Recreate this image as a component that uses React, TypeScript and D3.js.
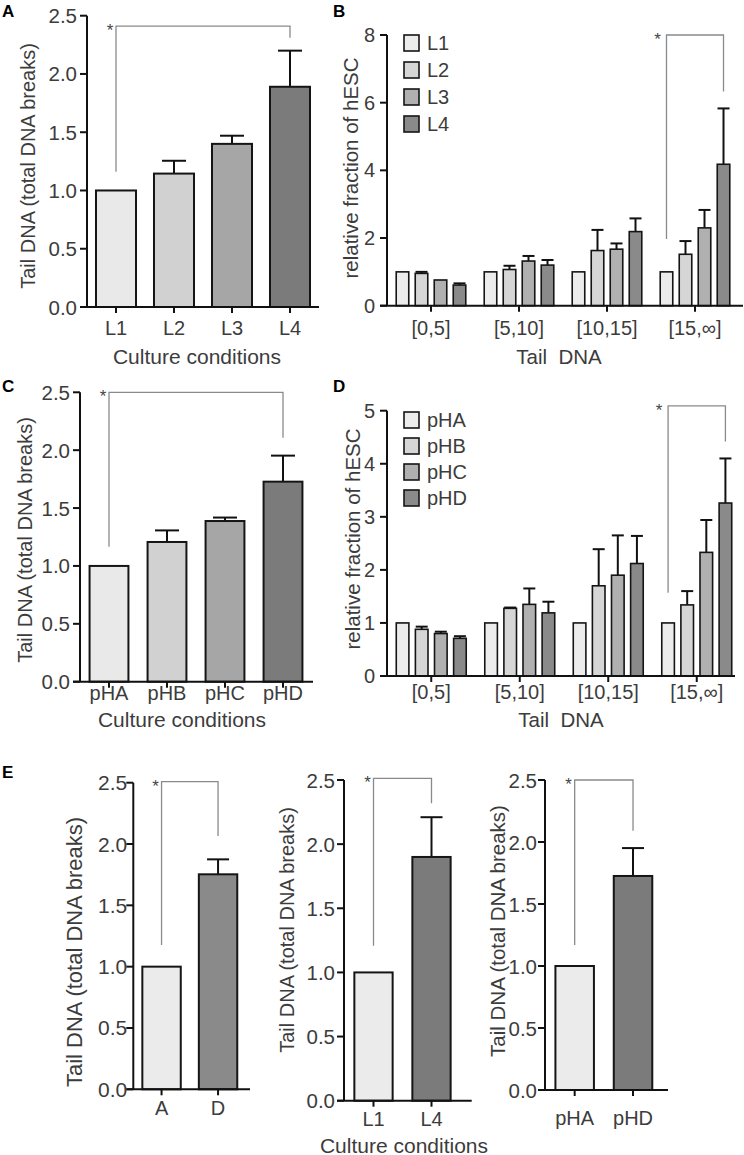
import React from "react";
import * as d3 from "d3";

const FONT = "'Liberation Sans', Arial, Helvetica, sans-serif";
const TXT = "#3c3c3c";

// ---------- Data ----------
const condA = ["L1", "L2", "L3", "L4"];
const valA = [1.0, 1.145, 1.4, 1.89];
const errA = [0, 0.11, 0.07, 0.31];

const condC = ["pHA", "pHB", "pHC", "pHD"];
const valC = [1.0, 1.207, 1.388, 1.728];
const errC = [0, 0.1, 0.03, 0.225];

const bins = ["[0,5]", "[5,10]", "[10,15]", "[15,\u221e]"];

const seriesB = ["L1", "L2", "L3", "L4"];
const bL1 = [1, 1, 1, 1];
const bL2 = [0.955, 1.07, 1.63, 1.52];
const bL3 = [0.76, 1.32, 1.67, 2.3];
const bL4 = [0.61, 1.2, 2.19, 4.18];
const bL1err = [0, 0, 0, 0];
const bL2err = [0.045, 0.11, 0.61, 0.39];
const bL3err = [0, 0.15, 0.17, 0.53];
const bL4err = [0.05, 0.15, 0.39, 1.65];

const seriesD = ["pHA", "pHB", "pHC", "pHD"];
const dA = [1, 1, 1, 1];
const dB = [0.88, 1.275, 1.7, 1.34];
const dC = [0.8, 1.35, 1.9, 2.33];
const dD = [0.71, 1.19, 2.12, 3.26];
const dAerr = [0, 0, 0, 0];
const dBerr = [0.05, 0.015, 0.69, 0.26];
const dCerr = [0.035, 0.3, 0.75, 0.61];
const dDerr = [0.04, 0.21, 0.52, 0.84];

const condE1 = ["A", "D"];
const valE1 = [1.0, 1.753];
const errE1 = [0, 0.122];

const condE2 = ["L1", "L4"];
const valE2 = [1.0, 1.9];
const errE2 = [0, 0.31];

const condE3 = ["pHA", "pHD"];
const valE3 = [1.0, 1.726];
const errE3 = [0, 0.225];

const ticksTail = [0, 0.5, 1.0, 1.5, 2.0, 2.5];
const ticksB = [0, 2, 4, 6, 8];
const ticksD = [0, 1, 2, 3, 4, 5];

const grays4 = ["#e9e9e9", "#d1d1d1", "#a6a6a6", "#7b7b7b"];
const graysLegend = ["#ececec", "#d6d6d6", "#b0b0b0", "#8a8a8a"];

const Y_LABEL = "Tail DNA (total DNA breaks)";

// ---------- Simple panel ----------
function SimplePanel(p: any) {
  const band = d3
    .scaleBand<string>()
    .domain(p.cats)
    .range(p.bandRange)
    .paddingInner(p.pi)
    .paddingOuter(p.po);
  const y = d3.scaleLinear().domain([0, p.yMax]).range([p.y0, p.yTop]);
  const bw = band.bandwidth();
  const cx = (c: string) => (band(c) as number) + bw / 2;
  const br = p.bracket;
  const xl = cx(p.cats[br.from]);
  const xr = cx(p.cats[br.to]);
  return (
    <g>
      {p.cats.map((c: string, i: number) => (
        <g key={c}>
          {p.errs[i] > 0 && (
            <g stroke="#111" strokeWidth={2}>
              <line x1={cx(c)} x2={cx(c)} y1={y(p.vals[i])} y2={y(p.vals[i] + p.errs[i])} />
              <line
                x1={cx(c) - p.capW / 2}
                x2={cx(c) + p.capW / 2}
                y1={y(p.vals[i] + p.errs[i])}
                y2={y(p.vals[i] + p.errs[i])}
              />
            </g>
          )}
          <rect
            x={band(c)}
            y={y(p.vals[i])}
            width={bw}
            height={p.y0 - y(p.vals[i])}
            fill={p.colors[i]}
            stroke="#151515"
            strokeWidth={2}
          />
        </g>
      ))}
      {/* axes */}
      <line x1={p.axisX} x2={p.axisX} y1={y(p.yMax)} y2={p.y0} stroke="#111" strokeWidth={2} />
      <line x1={p.axisX - 7} x2={p.axisEnd} y1={p.y0} y2={p.y0} stroke="#111" strokeWidth={2} />
      {p.ticks.map((t: number) => (
        <g key={t}>
          <line x1={p.axisX - 7} x2={p.axisX} y1={y(t)} y2={y(t)} stroke="#111" strokeWidth={2} />
          <text
            x={p.axisX - p.tickGap}
            y={y(t)}
            textAnchor="end"
            dominantBaseline="central"
            fontSize={p.tickFont}
            fill={TXT}
            fontFamily={FONT}
          >
            {d3.format(p.tickFmt)(t)}
          </text>
        </g>
      ))}
      {p.cats.map((c: string) => (
        <g key={"xt" + c}>
          <line x1={cx(c)} x2={cx(c)} y1={p.y0} y2={p.y0 + 6} stroke="#111" strokeWidth={2} />
          <text
            x={cx(c)}
            y={p.xLabelY}
            textAnchor="middle"
            dominantBaseline="central"
            fontSize={p.xFont}
            fill={TXT}
            fontFamily={FONT}
          >
            {c}
          </text>
        </g>
      ))}
      {/* bracket */}
      <path
        d={`M${xl},${y(br.fromV)}V${y(br.topV)}H${xr}V${y(br.toV)}`}
        fill="none"
        stroke="#8a8a8a"
        strokeWidth={1.3}
      />
      <text
        x={xl - 6}
        y={y(br.topV) + 10}
        textAnchor="middle"
        fontSize={17}
        fill="#444"
        fontFamily={FONT}
      >
        *
      </text>
      {/* y label */}
      <text
        transform={`translate(${p.yLab.x},${p.yLab.y}) rotate(-90)`}
        textAnchor="middle"
        dominantBaseline="central"
        fontSize={p.yLab.size}
        fill={TXT}
        fontFamily={FONT}
      >
        {Y_LABEL}
      </text>
      {p.xTitle && (
        <text
          x={p.xTitle.x}
          y={p.xTitle.y}
          textAnchor="middle"
          dominantBaseline="central"
          fontSize={p.xTitle.size}
          fill={TXT}
          fontFamily={FONT}
        >
          {p.xTitle.text}
        </text>
      )}
      {p.letter && (
        <text x={p.letter.x} y={p.letter.y} fontSize={17} fontWeight="bold" fill="#000" fontFamily={FONT}>
          {p.letter.text}
        </text>
      )}
    </g>
  );
}

// ---------- Grouped panel ----------
function GroupPanel(p: any) {
  const outer = d3.scaleBand<string>().domain(bins).range(p.bandRange).paddingInner(0).paddingOuter(0);
  const inner = d3
    .scaleBand<string>()
    .domain(p.series)
    .range([0, outer.bandwidth()])
    .paddingInner(0.34)
    .paddingOuter(0.485);
  const y = d3.scaleLinear().domain([0, p.yMax]).range([p.y0, p.yTop]);
  const bw = inner.bandwidth();
  const gx = (b: string) => (outer(b) as number) + outer.bandwidth() / 2;
  const bx = (b: string, s: string) => (outer(b) as number) + (inner(s) as number);
  const br = p.bracket;
  const lastBin = bins[bins.length - 1];
  const xl = bx(lastBin, p.series[0]) + bw / 2;
  const xr = bx(lastBin, p.series[p.series.length - 1]) + bw / 2;
  return (
    <g>
      {p.series.map((s: string, si: number) =>
        bins.map((b: string, bi: number) => {
          const v = p.vals[si][bi];
          const e = p.errs[si][bi];
          const c = bx(b, s) + bw / 2;
          return (
            <g key={s + b}>
              {e > 0 && (
                <g stroke="#111" strokeWidth={2}>
                  <line x1={c} x2={c} y1={y(v)} y2={y(v + e)} />
                  <line x1={c - p.capW / 2} x2={c + p.capW / 2} y1={y(v + e)} y2={y(v + e)} />
                </g>
              )}
              <rect
                x={bx(b, s)}
                y={y(v)}
                width={bw}
                height={p.y0 - y(v)}
                fill={p.colors[si]}
                stroke="#151515"
                strokeWidth={1.6}
              />
            </g>
          );
        })
      )}
      <line x1={p.axisX} x2={p.axisX} y1={y(p.yMax)} y2={p.y0} stroke="#111" strokeWidth={2} />
      <line x1={p.axisX - 7} x2={p.axisEnd} y1={p.y0} y2={p.y0} stroke="#111" strokeWidth={2} />
      {p.ticks.map((t: number) => (
        <g key={t}>
          <line x1={p.axisX - 7} x2={p.axisX} y1={y(t)} y2={y(t)} stroke="#111" strokeWidth={2} />
          <text
            x={p.axisX - 12}
            y={y(t)}
            textAnchor="end"
            dominantBaseline="central"
            fontSize={20}
            fill={TXT}
            fontFamily={FONT}
          >
            {t}
          </text>
        </g>
      ))}
      {bins.map((b: string) => (
        <g key={"xt" + b}>
          <line x1={gx(b)} x2={gx(b)} y1={p.y0} y2={p.y0 + 6} stroke="#111" strokeWidth={2} />
          <text
            x={gx(b)}
            y={p.xLabelY}
            textAnchor="middle"
            dominantBaseline="central"
            fontSize={20}
            fill={TXT}
            fontFamily={FONT}
          >
            {b}
          </text>
        </g>
      ))}
      {/* legend */}
      {p.series.map((s: string, i: number) => (
        <g key={"lg" + s}>
          <rect
            x={p.legend.x}
            y={p.legend.y + i * p.legend.dy - 8}
            width={15}
            height={16}
            fill={graysLegend[i]}
            stroke="#151515"
            strokeWidth={1.6}
          />
          <text
            x={p.legend.x + 23}
            y={p.legend.y + i * p.legend.dy}
            dominantBaseline="central"
            fontSize={20}
            fill={TXT}
            fontFamily={FONT}
          >
            {s}
          </text>
        </g>
      ))}
      <path
        d={`M${xl},${y(br.fromV)}V${y(br.topV)}H${xr}V${y(br.toV)}`}
        fill="none"
        stroke="#8a8a8a"
        strokeWidth={1.3}
      />
      <text x={xl - 9} y={y(br.topV) + 10} textAnchor="middle" fontSize={17} fill="#444" fontFamily={FONT}>
        *
      </text>
      <text
        transform={`translate(${p.yLab.x},${p.yLab.y}) rotate(-90)`}
        textAnchor="middle"
        dominantBaseline="central"
        fontSize={20.5}
        fill={TXT}
        fontFamily={FONT}
      >
        relative fraction of hESC
      </text>
      <text
        x={p.xTitle.x}
        y={p.xTitle.y}
        textAnchor="middle"
        dominantBaseline="central"
        fontSize={20.5}
        fill={TXT}
        fontFamily={FONT}
      >
        {"Tail\u00a0\u00a0DNA"}
      </text>
      <text x={p.letter.x} y={p.letter.y} fontSize={17} fontWeight="bold" fill="#000" fontFamily={FONT}>
        {p.letter.text}
      </text>
    </g>
  );
}

export default function App() {
  return (
    <svg
      width={744}
      height={1155}
      style={{ position: "absolute", left: 0, top: 0, background: "#fff" }}
    >
      <rect width={744} height={1155} fill="#fff" />
      {/* A */}
      <SimplePanel
        cats={condA}
        vals={valA}
        errs={errA}
        colors={grays4}
        axisX={87}
        axisEnd={319}
        bandRange={[87, 319]}
        pi={0.31}
        po={0.155}
        y0={307}
        yTop={15.7}
        yMax={2.5}
        ticks={ticksTail}
        tickFmt=".1f"
        tickFont={20.5}
        tickGap={10}
        xLabelY={328}
        xFont={20}
        capW={24}
        bracket={{ from: 0, to: 3, fromV: 1.16, toV: 2.31, topV: 2.41 }}
        yLab={{ x: 28, y: 166, size: 20 }}
        xTitle={{ x: 197, y: 356, size: 21, text: "Culture conditions" }}
        letter={{ x: 2, y: 17, text: "A" }}
      />
      {/* B */}
      <GroupPanel
        series={seriesB}
        vals={[bL1, bL2, bL3, bL4]}
        errs={[bL1err, bL2err, bL3err, bL4err]}
        colors={graysLegend}
        axisX={387}
        axisEnd={743}
        bandRange={[387, 739]}
        y0={305.7}
        yTop={35}
        yMax={8}
        ticks={ticksB}
        xLabelY={328}
        capW={12}
        bracket={{ fromV: 1.97, toV: 6.33, topV: 8.0 }}
        legend={{ x: 404, y: 43, dy: 27 }}
        yLab={{ x: 350, y: 168 }}
        xTitle={{ x: 559, y: 356 }}
        letter={{ x: 333, y: 17, text: "B" }}
      />
      {/* C */}
      <SimplePanel
        cats={condC}
        vals={valC}
        errs={errC}
        colors={grays4}
        axisX={80}
        axisEnd={313}
        bandRange={[80, 312]}
        pi={0.33}
        po={0.165}
        y0={681.7}
        yTop={392.3}
        yMax={2.5}
        ticks={ticksTail}
        tickFmt=".1f"
        tickFont={20.5}
        tickGap={10}
        xLabelY={693}
        xFont={20}
        capW={24}
        bracket={{ from: 0, to: 3, fromV: 1.166, toV: 2.108, topV: 2.5 }}
        yLab={{ x: 25, y: 540, size: 20 }}
        xTitle={{ x: 182, y: 719, size: 21, text: "Culture conditions" }}
        letter={{ x: 2, y: 392, text: "C" }}
      />
      {/* D */}
      <GroupPanel
        series={seriesD}
        vals={[dA, dB, dC, dD]}
        errs={[dAerr, dBerr, dCerr, dDerr]}
        colors={graysLegend}
        axisX={387}
        axisEnd={735}
        bandRange={[387, 741]}
        y0={676}
        yTop={410.7}
        yMax={5}
        ticks={ticksD}
        xLabelY={692}
        capW={12}
        bracket={{ fromV: 1.57, toV: 4.42, topV: 5.09 }}
        legend={{ x: 404, y: 420, dy: 26 }}
        yLab={{ x: 352, y: 539 }}
        xTitle={{ x: 561, y: 719 }}
        letter={{ x: 333, y: 392, text: "D" }}
      />
      {/* E1 */}
      <SimplePanel
        cats={condE1}
        vals={valE1}
        errs={errE1}
        colors={["#ebebeb", "#8a8a8a"]}
        axisX={133.3}
        axisEnd={250}
        bandRange={[133.3, 246.3]}
        pi={0.32}
        po={0.16}
        y0={1089.3}
        yTop={782.7}
        yMax={2.5}
        ticks={ticksTail}
        tickFont={21}
        tickFmt=".1f"
        tickGap={6}
        xLabelY={1108}
        xFont={20}
        capW={22}
        bracket={{ from: 0, to: 1, fromV: 1.177, toV: 2.065, topV: 2.508 }}
        yLab={{ x: 74, y: 952, size: 22 }}
        letter={{ x: 2, y: 778, text: "E" }}
      />
      {/* E2 */}
      <SimplePanel
        cats={condE2}
        vals={valE2}
        errs={errE2}
        colors={["#ebebeb", "#7b7b7b"]}
        axisX={344}
        axisEnd={471.7}
        bandRange={[344.5, 460.5]}
        pi={0.34}
        po={0.17}
        y0={1100.7}
        yTop={780}
        yMax={2.5}
        ticks={ticksTail}
        tickFmt=".1f"
        tickFont={20.5}
        tickGap={9}
        xLabelY={1119}
        xFont={20}
        capW={22}
        bracket={{ from: 0, to: 1, fromV: 1.208, toV: 2.318, topV: 2.513 }}
        yLab={{ x: 287, y: 930, size: 20 }}
        xTitle={{ x: 404, y: 1145, size: 21, text: "Culture conditions" }}
      />
      {/* E3 */}
      <SimplePanel
        cats={condE3}
        vals={valE3}
        errs={errE3}
        colors={["#ebebeb", "#7b7b7b"]}
        axisX={545}
        axisEnd={668}
        bandRange={[545.5, 662.2]}
        pi={0.34}
        po={0.17}
        y0={1090}
        yTop={780}
        yMax={2.5}
        ticks={ticksTail}
        tickFmt=".1f"
        tickFont={20.5}
        tickGap={8}
        xLabelY={1118}
        xFont={20}
        capW={22}
        bracket={{ from: 0, to: 1, fromV: 1.17, toV: 2.09, topV: 2.5 }}
        yLab={{ x: 497, y: 931, size: 20.5 }}
      />
    </svg>
  );
}
